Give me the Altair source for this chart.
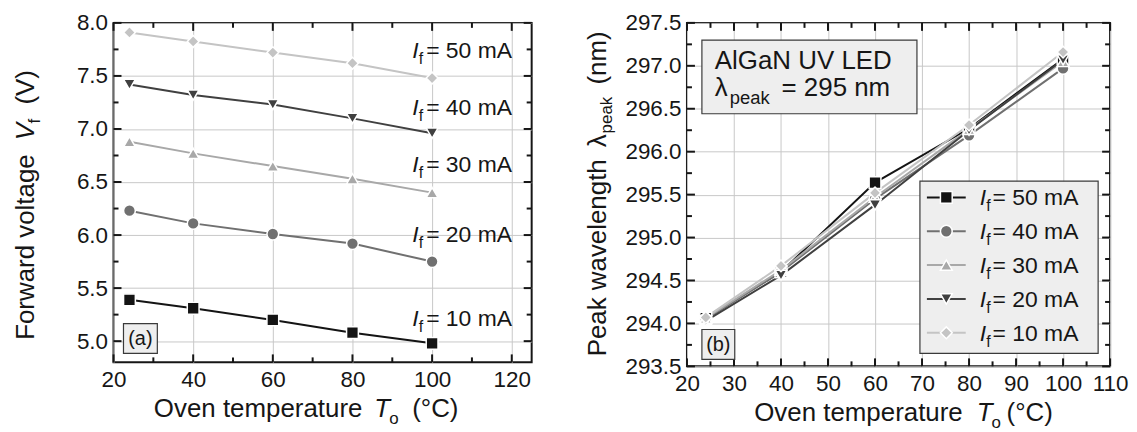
import altair as alt
import pandas as pd

FONT = "Liberation Sans"
INK = "#161616"

# ---------------- data ----------------
temps = [24, 40, 60, 80, 100]

# panel (a): forward voltage (V), one list per marker series (top to bottom)
vf_diamond = [7.91, 7.825, 7.72, 7.62, 7.48]
vf_tridown = [7.42, 7.32, 7.23, 7.10, 6.96]
vf_triup = [6.88, 6.77, 6.65, 6.53, 6.40]
vf_circle = [6.23, 6.11, 6.01, 5.92, 5.75]
vf_square = [5.39, 5.31, 5.20, 5.08, 4.98]
a_series = ["diamond", "tridown", "triup", "circle", "square"]
a_values = [vf_diamond, vf_tridown, vf_triup, vf_circle, vf_square]
a_labels = ["50 mA", "40 mA", "30 mA", "20 mA", "10 mA"]
a_shapes = ["diamond", "triangle-down", "triangle-up", "circle", "square"]
a_colors = ["#c4c4c4", "#404040", "#a8a8a8", "#707070", "#141414"]

# panel (b): peak wavelength (nm)
wl_50 = [294.06, 294.60, 295.64, 296.27, 297.08]
wl_40 = [294.05, 294.60, 295.45, 296.19, 296.97]
wl_30 = [294.06, 294.62, 295.47, 296.26, 297.05]
wl_20 = [294.03, 294.56, 295.38, 296.25, 297.07]
wl_10 = [294.07, 294.67, 295.52, 296.31, 297.16]
b_series = ["50 mA", "40 mA", "30 mA", "20 mA", "10 mA"]
b_values = [wl_50, wl_40, wl_30, wl_20, wl_10]
b_shapes = ["square", "circle", "triangle-up", "triangle-down", "diamond"]
b_colors = ["#141414", "#707070", "#a8a8a8", "#404040", "#c4c4c4"]

# axis ticks
xa_major = [20, 40, 60, 80, 100, 120]
xa_minor = [30, 50, 70, 90, 110]
ya_major = [5.0, 5.5, 6.0, 6.5, 7.0, 7.5, 8.0]
ya_minor = [5.25, 5.75, 6.25, 6.75, 7.25, 7.75]
xb_major = [20, 30, 40, 50, 60, 70, 80, 90, 100, 110]
xb_minor = [25, 35, 45, 55, 65, 75, 85, 95, 105]
yb_major = [293.5, 294.0, 294.5, 295.0, 295.5, 296.0, 296.5, 297.0, 297.5]
yb_minor = [293.75, 294.25, 294.75, 295.25, 295.75, 296.25, 296.75, 297.25]

ONE = pd.DataFrame({"d": [0]})
MSIZE = 140


def long_df(series, values):
    rows = []
    for s, vals in zip(series, values):
        for t, v in zip(temps, vals):
            rows.append({"s": s, "T": t, "v": v})
    return pd.DataFrame(rows)


def txt(s, x, y, size, italic=False, align="left", angle=0, baseline="alphabetic"):
    kw = dict(text=s, font=FONT, fontSize=size, align=align, baseline=baseline, color=INK)
    if italic:
        kw["fontStyle"] = "italic"
    if angle:
        kw["angle"] = angle
    return alt.Chart(ONE).mark_text(**kw).encode(x=alt.value(x), y=alt.value(y))


def box(x1, x2, y1, y2, sw=1.2):
    return alt.Chart(ONE).mark_rect(fill="#eeeeee", stroke="#3a3a3a", strokeWidth=sw).encode(
        x=alt.value(x1), x2=alt.value(x2), y=alt.value(y1), y2=alt.value(y2))


def anchor(x1, x2, y):
    return alt.Chart(ONE).mark_rule(strokeOpacity=0, strokeWidth=0.01).encode(
        x=alt.value(x1), x2=alt.value(x2), y=alt.value(y), y2=alt.value(y))


def panel(df, series, colors, shapes, xdom, ydom, W, H, xmaj, xmin, ymaj, ymin):
    xs = alt.Scale(domain=xdom, nice=False, zero=False)
    ys = alt.Scale(domain=ydom, nice=False, zero=False)
    axis_common = dict(labelFont=FONT, labelFontSize=22.5, labelColor=INK, ticks=False,
                       domain=False, grid=True, gridColor="#c8c8c8", gridWidth=1,
                       labelFlush=False, labelOverlap=False, labelBound=False)
    xax = alt.Axis(values=xmaj, format="d", labelPadding=6, **axis_common)
    yax = alt.Axis(values=ymaj, format=".1f", labelPadding=6, **axis_common)
    line = alt.Chart(df).mark_line(strokeWidth=2).encode(
        x=alt.X("T:Q", scale=xs, title=None, axis=xax),
        y=alt.Y("v:Q", scale=ys, title=None, axis=yax),
        color=alt.Color("s:N", scale=alt.Scale(domain=series, range=colors), legend=None),
    )
    pts = alt.Chart(df).mark_point(filled=True, size=MSIZE, opacity=1, strokeWidth=1.5).encode(
        x=alt.X("T:Q", scale=xs, title=None, axis=xax),
        y=alt.Y("v:Q", scale=ys, title=None, axis=yax),
        fill=alt.Fill("s:N", scale=alt.Scale(domain=series, range=colors), legend=None),
        shape=alt.Shape("s:N", scale=alt.Scale(domain=series, range=shapes), legend=None),
        stroke=alt.value("white"),
    )
    layers = [line, pts]
    for vals, ln in ((xmaj, 8), (xmin, 5)):
        d = pd.DataFrame({"T": vals})
        for top in (True, False):
            y1, y2 = (0, ln) if top else (H, H - ln)
            layers.append(alt.Chart(d).mark_rule(color=INK, strokeWidth=2).encode(
                x=alt.X("T:Q", scale=xs, title=None, axis=xax), y=alt.value(y1), y2=alt.value(y2)))
    for vals, ln in ((ymaj, 8), (ymin, 5)):
        d = pd.DataFrame({"v": vals})
        for left in (True, False):
            x1, x2 = (0, ln) if left else (W, W - ln)
            layers.append(alt.Chart(d).mark_rule(color=INK, strokeWidth=2).encode(
                y=alt.Y("v:Q", scale=ys, title=None, axis=yax), x=alt.value(x1), x2=alt.value(x2)))
    return layers


# ---------------- panel (a) ----------------
WA, HA = 420, 341
dfa = long_df(a_series, a_values)
la = panel(dfa, a_series, a_colors, a_shapes, [20, 125], [4.8, 8.0], WA, HA,
           xa_major, xa_minor, ya_major, ya_minor)
for lab, bl in zip(a_labels, [35.7, 92.3, 149.7, 219.7, 304.7]):
    la += [txt("I", 300, bl, 23, italic=True), txt("f", 306.5, bl + 6, 16),
           txt("= " + lab, 314, bl, 23)]
la += [box(10, 44, 302, 332), txt("(a)", 27, 317.5, 20, align="center", baseline="middle")]
# x title
xT = 262
la += [txt("Oven temperature", xT - 12, 396, 26, align="right"),
       txt("T", xT, 396, 26, italic=True), txt("o", xT + 15, 403, 17),
       txt("(°C)", xT + 38, 396, 26)]
# y title (rotated)
yV, bx = 118, -80
la += [txt("Forward voltage", bx, yV + 14, 26, align="right", angle=270),
       txt("V", bx, yV, 26, italic=True, angle=270),
       txt("f", bx + 6, yV - 17, 17, angle=270),
       txt("(V)", bx, yV - 17 - 5 - 14, 26, angle=270)]
la += [anchor(-105, 430, -13)]
chart_a = alt.layer(*la).properties(width=WA, height=HA)

# ---------------- panel (b) ----------------
WB, HB = 425, 345
dfb = long_df(b_series, b_values)
lb = panel(dfb, b_series, b_colors, b_shapes, [20, 110], [293.5, 297.5], WB, HB,
           xb_major, xb_minor, yb_major, yb_minor)
# info box
lb += [box(15, 231, 17.3, 91.3),
       txt("AlGaN UV LED", 28, 46.6, 26),
       txt("λ", 28, 73.3, 26), txt("peak", 43, 81.6, 18.5), txt("= 295 nm", 95, 73.3, 26)]
# legend
lb += [box(234, 413, 159, 332)]
for s, c, sh, cy in zip(b_series, b_colors, b_shapes, [175.3, 209.3, 243.3, 277.3, 311.3]):
    lb += [alt.Chart(ONE).mark_rule(color=c, strokeWidth=2).encode(
               x=alt.value(241), x2=alt.value(280), y=alt.value(cy), y2=alt.value(cy)),
           alt.Chart(ONE).mark_point(filled=True, size=MSIZE, opacity=1, shape=sh, fill=c,
                                     stroke="white", strokeWidth=1.5).encode(
               x=alt.value(260.5), y=alt.value(cy)),
           txt("I", 294, cy + 8, 23, italic=True), txt("f", 300.5, cy + 14, 16),
           txt("= " + s, 307, cy + 8, 23)]
lb += [box(15, 48, 308, 338), txt("(b)", 31.5, 323.5, 20, align="center", baseline="middle")]
xTb = 291
lb += [txt("Oven temperature", xTb - 14, 400, 26, align="right"),
       txt("T", xTb, 400, 26, italic=True), txt("o", xTb + 15, 407, 17),
       txt("(°C)", xTb + 30, 400, 26)]
yL, bxb = 125, -81
lb += [txt("Peak wavelength", bxb, yL + 12, 26, align="right", angle=270),
       txt("λ", bxb, yL, 26, angle=270),
       txt("peak", bxb + 6, yL - 14, 17, angle=270),
       txt("(nm)", bxb, yL - 14 - 39 - 10, 26, angle=270)]
lb += [anchor(-110, 440, -8.7)]
chart_b = alt.layer(*lb).properties(width=WB, height=HB)

chart = alt.hconcat(chart_a, chart_b, spacing=34).resolve_scale(
    color="independent", fill="independent", shape="independent"
).properties(padding=0).configure_view(stroke=INK, strokeWidth=2)

chart.save("out.html", embed_options={"renderer": "svg", "actions": False})
